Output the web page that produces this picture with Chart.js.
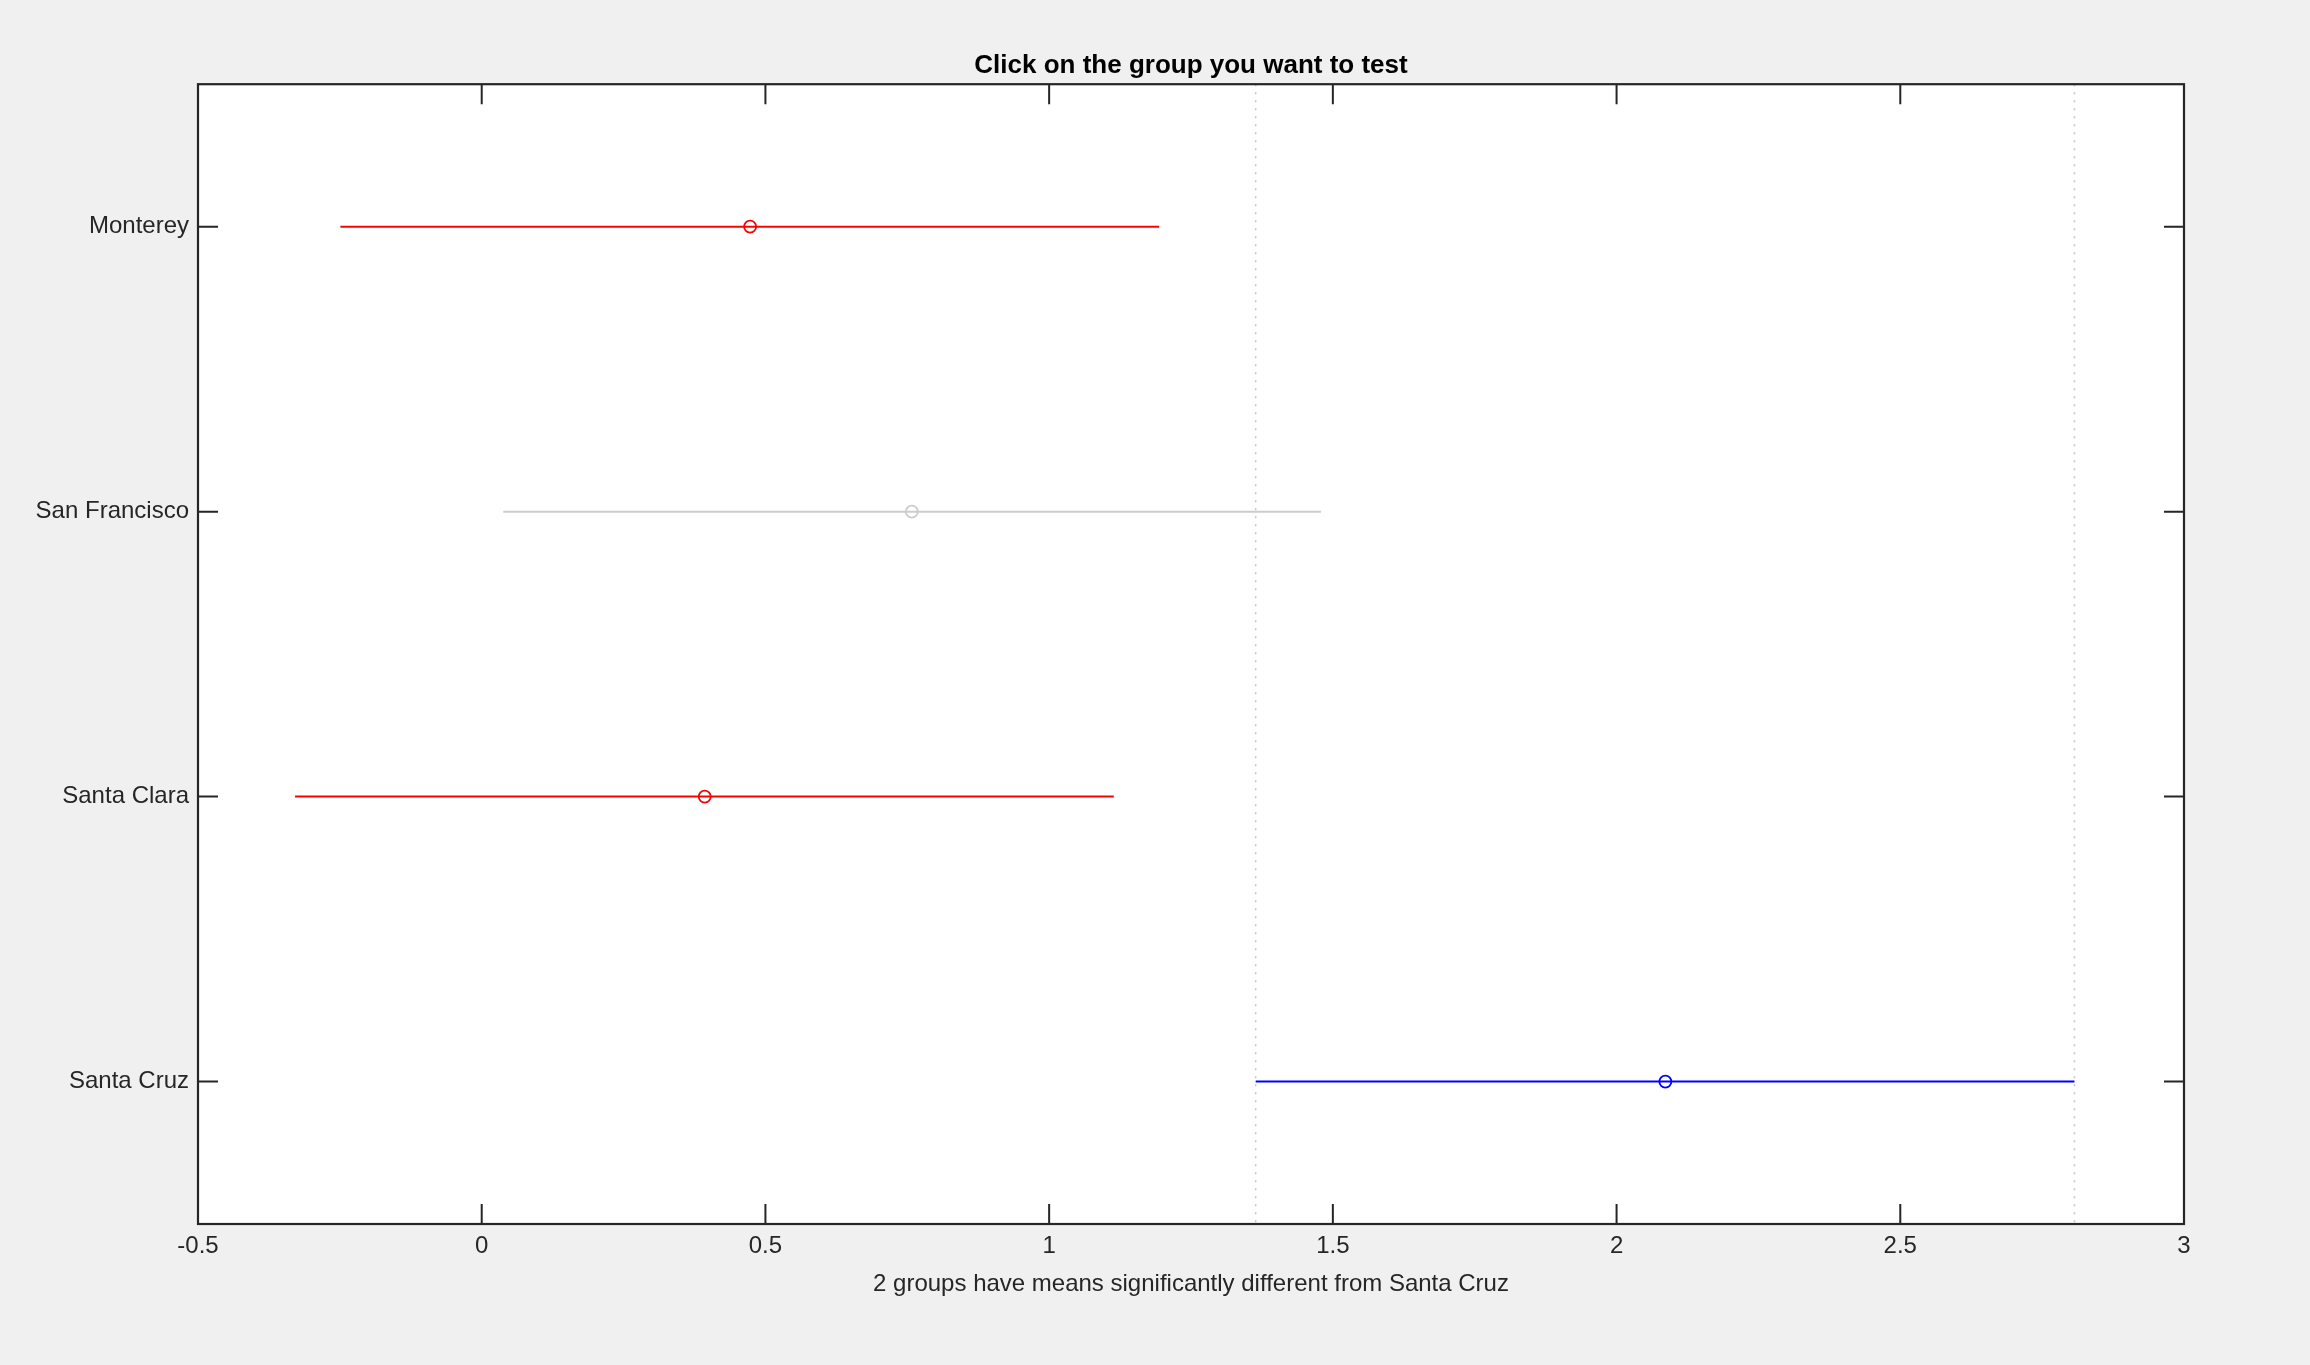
<!DOCTYPE html>
<html>
<head>
<meta charset="utf-8">
<script src="https://cdn.jsdelivr.net/npm/chart.js@4/dist/chart.umd.min.js"></script>
<style>
  html, body { margin: 0; padding: 0; background: #f0f0f0; }
  #wrap { width: 2310px; height: 1365px; }
  canvas { display: block; }
</style>
</head>
<body>
<div id="wrap"><canvas id="c" width="2310" height="1365"></canvas></div>
<script>
// ---- data ----
const groups = ['Monterey', 'San Francisco', 'Santa Clara', 'Santa Cruz'];
const means  = [0.473, 0.758, 0.393, 2.086];
const lower  = [-0.249, 0.038, -0.329, 1.364];
const upper  = [1.194, 1.479, 1.114, 2.807];
const groupColors = ['#ff0000', '#cccccc', '#ff0000', '#0000ff'];
const xTickValues = [-0.5, 0, 0.5, 1, 1.5, 2, 2.5, 3];
const yTickValues = [1, 2, 3, 4];
const selectedIndex = 3; // Santa Cruz
const titleText = 'Click on the group you want to test';
const xLabelText = '2 groups have means significantly different from Santa Cruz';

const AX = '#262626';
const FONT = "'Liberation Sans', Arial, Helvetica, sans-serif";

const datasets = [];
// reference dotted lines at the selected group's interval limits
[lower[selectedIndex], upper[selectedIndex]].forEach(v => {
  datasets.push({
    data: [{x: v, y: 0.5}, {x: v, y: 4.5}],
    borderColor: '#c4c4c4',
    borderWidth: 1.5,
    borderDash: [2, 6],
    pointRadius: 0,
    showLine: true,
    fill: false
  });
});
groups.forEach((g, i) => {
  datasets.push({
    label: g,
    data: [{x: lower[i], y: i + 1}, {x: means[i], y: i + 1}, {x: upper[i], y: i + 1}],
    borderColor: groupColors[i],
    borderWidth: 2,
    pointRadius: [0, 6, 0],
    pointBorderWidth: 1.8,
    pointBorderColor: groupColors[i],
    pointBackgroundColor: 'rgba(0,0,0,0)',
    pointStyle: 'circle',
    showLine: true,
    fill: false
  });
});

const framePlugin = {
  id: 'frame',
  beforeDraw(chart) {
    const {ctx, chartArea: a} = chart;
    ctx.save();
    ctx.fillStyle = '#ffffff';
    ctx.fillRect(a.left, a.top, a.right - a.left, a.bottom - a.top);
    ctx.restore();
  },
  afterDraw(chart) {
    const {ctx, chartArea: a, scales} = chart;
    const L = 20;
    ctx.save();
    ctx.strokeStyle = AX;
    ctx.lineWidth = 2;
    ctx.beginPath();
    scales.x.ticks.forEach(t => {
      const px = scales.x.getPixelForValue(t.value);
      ctx.moveTo(px, a.bottom); ctx.lineTo(px, a.bottom - L);
      ctx.moveTo(px, a.top); ctx.lineTo(px, a.top + L);
    });
    scales.y.ticks.forEach(t => {
      const py = scales.y.getPixelForValue(t.value);
      ctx.moveTo(a.left, py); ctx.lineTo(a.left + L, py);
      ctx.moveTo(a.right, py); ctx.lineTo(a.right - L, py);
    });
    ctx.stroke();
    ctx.lineWidth = 2.2;
    ctx.strokeRect(a.left, a.top, a.right - a.left, a.bottom - a.top);
    ctx.restore();
  }
};

new Chart(document.getElementById('c'), {
  type: 'scatter',
  data: { datasets },
  options: {
    responsive: false,
    animation: false,
    events: [],
    devicePixelRatio: 1,
    layout: { padding: { left: 0, right: 126, top: 0, bottom: 0 } },
    plugins: {
      legend: { display: false },
      tooltip: { enabled: false },
      title: {
        display: true,
        text: titleText,
        fullSize: false,
        color: '#000000',
        font: { family: FONT, size: 26, weight: 'bold' },
        padding: { top: 50, bottom: 3 }
      }
    },
    scales: {
      x: {
        type: 'linear',
        position: 'bottom',
        min: -0.5,
        max: 3,
        afterBuildTicks: s => { s.ticks = xTickValues.map(v => ({ value: v })); },
        afterFit: s => { s.height = 141; },
        grid: { display: false, drawTicks: false },
        border: { display: false },
        ticks: {
          color: AX,
          padding: 8,
          font: { family: FONT, size: 24 },
          maxRotation: 0,
          callback: v => String(v)
        },
        title: {
          display: true,
          text: xLabelText,
          color: AX,
          font: { family: FONT, size: 24 },
          padding: { top: 0, bottom: 66 }
        }
      },
      y: {
        type: 'linear',
        position: 'left',
        reverse: true,
        min: 0.5,
        max: 4.5,
        afterBuildTicks: s => { s.ticks = yTickValues.map(v => ({ value: v })); },
        afterFit: s => { s.width = 198; },
        grid: { display: false, drawTicks: false },
        border: { display: false },
        ticks: {
          color: AX,
          padding: 9,
          font: { family: FONT, size: 24 },
          callback: v => groups[v - 1] ?? ''
        }
      }
    }
  },
  plugins: [framePlugin]
});
</script>
</body>
</html>
